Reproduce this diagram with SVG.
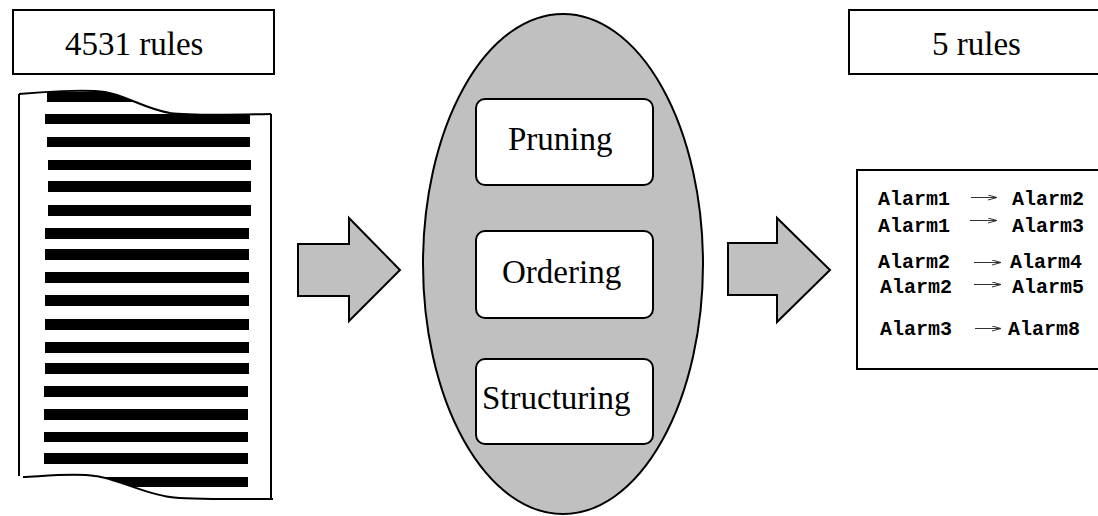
<svg xmlns="http://www.w3.org/2000/svg" width="1098" height="516" viewBox="0 0 1098 516">
<style>
.box{fill:#fff;stroke:#000;stroke-width:2}
.step{fill:#fff;stroke:#000;stroke-width:2}
.big{font-family:"Liberation Serif","Times New Roman",serif;font-size:33px;fill:#000}
.mono{font-family:"Liberation Mono","Courier New",monospace;font-weight:bold;font-size:20px;fill:#000}
.blk{fill:#c0c0c0;stroke:#000;stroke-width:2;stroke-linejoin:miter}
.bar{fill:#000}
.sm{fill:none;stroke:#333;stroke-width:1}
</style>
<defs>
<clipPath id="docclip">
<path d="M19,94 C40,92 85,89 105,92 C125,95 145,109 170,113 C185,115 230,115 271,114 L271,499 C240,499 190,500 170,497 C145,494 115,478 95,476 C75,473 45,476 23,477 L19,477 Z"/>
</clipPath>
<marker id="ah" markerWidth="10" markerHeight="6" refX="9" refY="3" orient="auto" markerUnits="userSpaceOnUse">
<path d="M0,0.5 L9,3 L0,5.5" fill="none" stroke="#333" stroke-width="1"/>
</marker>
</defs>

<g id="label-in">
<rect class="box" x="13" y="10" width="261" height="64"/>
<text class="big" x="65" y="55">4531 rules</text>
</g>

<g id="document">
<path d="M19,94 C40,92 85,89 105,92 C125,95 145,109 170,113 C185,115 230,115 271,114 L271,499 C240,499 190,500 170,497 C145,494 115,478 95,476 C75,473 45,476 23,477 L19,477 Z" fill="#fff"/>
<g clip-path="url(#docclip)">
<rect class="bar" x="47" y="92" width="203" height="10"/>
<rect class="bar" x="45" y="114" width="205" height="10"/>
<rect class="bar" x="47" y="137" width="203" height="10"/>
<rect class="bar" x="48" y="160" width="203" height="10"/>
<rect class="bar" x="48" y="181" width="203" height="11"/>
<rect class="bar" x="48" y="205" width="203" height="11"/>
<rect class="bar" x="45" y="228" width="204" height="11"/>
<rect class="bar" x="45" y="249" width="204" height="11"/>
<rect class="bar" x="45" y="272" width="204" height="11"/>
<rect class="bar" x="45" y="295" width="204" height="11"/>
<rect class="bar" x="45" y="319" width="204" height="11"/>
<rect class="bar" x="45" y="342" width="204" height="11"/>
<rect class="bar" x="45" y="363" width="204" height="11"/>
<rect class="bar" x="44" y="386" width="204" height="11"/>
<rect class="bar" x="44" y="409" width="204" height="11"/>
<rect class="bar" x="44" y="432" width="204" height="10"/>
<rect class="bar" x="44" y="453" width="204" height="11"/>
<rect class="bar" x="44" y="477" width="204" height="10"/>
</g>
<path d="M19,94 C40,92 85,89 105,92 C125,95 145,109 170,113 C185,115 230,115 271,114" fill="none" stroke="#000" stroke-width="2"/>
<path d="M19,94 L19,476" fill="none" stroke="#000" stroke-width="2"/>
<path d="M271,114 L271,499" fill="none" stroke="#000" stroke-width="2"/>
<path d="M23,477 C45,476 75,473 95,476 C115,478 145,494 170,497 C190,500 240,499 273,499" fill="none" stroke="#000" stroke-width="2"/>
</g>

<g id="process">
<ellipse cx="563" cy="264" rx="140" ry="250" fill="#c0c0c0" stroke="#000" stroke-width="2"/>
</g>
<g id="pruning">
<rect class="step" x="476" y="99" width="177" height="86" rx="9"/>
<text class="big" x="508" y="150">Pruning</text>
</g>
<g id="ordering">
<rect class="step" x="476" y="231" width="177" height="87" rx="9"/>
<text class="big" x="502" y="283">Ordering</text>
</g>
<g id="structuring">
<rect class="step" x="476" y="359" width="177" height="85" rx="9"/>
<text class="big" x="482" y="409">Structuring</text>
</g>

<g id="label-out">
<rect class="box" x="849" y="10" width="260" height="64"/>
<text class="big" x="932" y="55">5 rules</text>
</g>

<g id="result">
<rect class="box" x="857" y="170" width="250" height="199"/>
<text class="mono" x="878" y="205">Alarm1</text>
<text class="mono" x="1012" y="205">Alarm2</text>
<text class="mono" x="878" y="232">Alarm1</text>
<text class="mono" x="1012" y="232">Alarm3</text>
<text class="mono" x="878" y="268">Alarm2</text>
<text class="mono" x="1010" y="268">Alarm4</text>
<text class="mono" x="880" y="293">Alarm2</text>
<text class="mono" x="1012" y="293">Alarm5</text>
<text class="mono" x="880" y="335">Alarm3</text>
<text class="mono" x="1008" y="335">Alarm8</text>
<path class="sm" d="M971,197.5 L997,197.5" marker-end="url(#ah)"/>
<path class="sm" d="M970,220.5 L997,220.5" marker-end="url(#ah)"/>
<path class="sm" d="M974,262.5 L1001,262.5" marker-end="url(#ah)"/>
<path class="sm" d="M974,284.5 L1001,284.5" marker-end="url(#ah)"/>
<path class="sm" d="M975,328.5 L1001,328.5" marker-end="url(#ah)"/>
</g>

<g id="connectors">
<path class="blk" d="M298,244 L349,244 L349,218 L400,270 L349,321 L349,296 L298,296 Z"/>
<path class="blk" d="M728,243 L777,243 L777,218 L830,270 L777,322 L777,295 L728,295 Z"/>
</g>
</svg>
